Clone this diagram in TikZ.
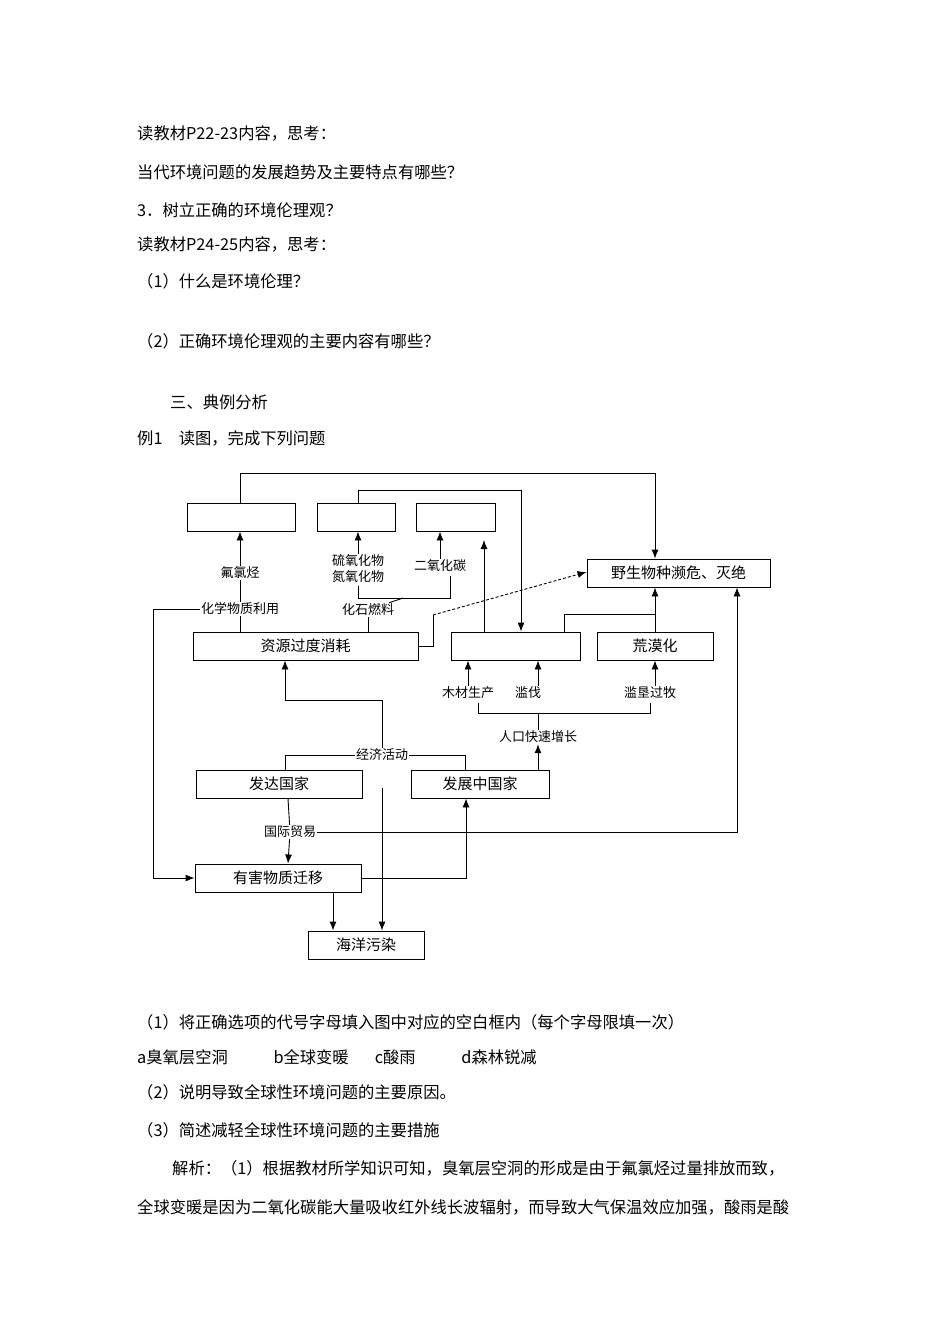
\documentclass[tikz,border=0pt]{standalone}
\usepackage{fontspec}
\setmainfont{Liberation Serif}
\newfontfamily\cjk{Noto Sans CJK SC}
\usetikzlibrary{arrows.meta}
\begin{document}
\begin{tikzpicture}[x=1pt,y=-1pt,
  ln/.style={line width=0.9pt},
  ar/.style={ln,-{Latex[length=9pt,width=7pt]}},
  bx/.style={draw,line width=0.9pt,minimum height=28pt,inner sep=0pt,font=\cjk\fontsize{15}{17}\selectfont},
  lb/.style={fill=white,inner sep=1pt,font=\cjk\fontsize{13}{15}\selectfont},
  tx/.style={anchor=west,inner sep=0pt,font=\cjk\fontsize{16.3}{19}\selectfont}]
\useasboundingbox (0,0) rectangle (950,1344);
\fill[white] (0,0) rectangle (950,1344);
% page text
\node[tx] (t1) at (137,133) {读教材P22-23内容，思考：};
\node[tx] (t2) at (137,172) {当代环境问题的发展趋势及主要特点有哪些？};
\node[tx] (t3) at (137,210) {3．树立正确的环境伦理观？};
\node[tx] (t4) at (137,244) {读教材P24-25内容，思考：};
\node[tx] (t5) at (137,281) {（1）什么是环境伦理？};
\node[tx] (t6) at (137,341) {（2）正确环境伦理观的主要内容有哪些？};
\node[tx] (t7) at (170,402) {三、典例分析};
\node[tx] (t8) at (137,438) {例1\quad 读图，完成下列问题};
\node[tx] (t9) at (137,1022) {（1）将正确选项的代号字母填入图中对应的空白框内（每个字母限填一次）};
\node[tx] (t10) at (137,1057) {a臭氧层空洞\hspace{2.8em}b全球变暖\hspace{1.6em}c酸雨\hspace{2.8em}d森林锐减};
\node[tx] (t11) at (137,1092) {（2）说明导致全球性环境问题的主要原因。};
\node[tx] (t12) at (137,1130) {（3）简述减轻全球性环境问题的主要措施};
\node[tx] (t13) at (172,1168) {解析：（1）根据教材所学知识可知，臭氧层空洞的形成是由于氟氯烃过量排放而致，};
\node[tx] (t14) at (137,1207) {全球变暖是因为二氧化碳能大量吸收红外线长波辐射，而导致大气保温效应加强，酸雨是酸};
% boxes
\node[bx,minimum width=108pt] (b1) at (241,517) {};
\node[bx,minimum width=78pt] (b2) at (356,517) {};
\node[bx,minimum width=79pt] (b3) at (455.5,517) {};
\node[bx,minimum width=183pt] (wild) at (678.5,573) {野生物种濒危、灭绝};
\node[bx,minimum width=225pt] (res) at (305.5,646) {资源过度消耗};
\node[bx,minimum width=129pt] (mid) at (515.5,646) {};
\node[bx,minimum width=116pt] (des) at (655,646) {荒漠化};
\node[bx,minimum width=166pt] (dev1) at (279,784) {发达国家};
\node[bx,minimum width=138pt] (dev2) at (480,784) {发展中国家};
\node[bx,minimum width=166pt] (harm) at (278,878) {有害物质迁移};
\node[bx,minimum width=116pt] (sea) at (366,945) {海洋污染};
% labels
\node[lb] (cfc) at (240,573) {氟氯烃};
\node[lb,align=center,font=\cjk\fontsize{13}{16}\selectfont] (sox) at (358,569) {硫氧化物\\氮氧化物};
\node[lb] (co2) at (440,566) {二氧化碳};
\node[lb] (chem) at (240,609) {化学物质利用};
\node[lb] (fuel) at (368,610) {化石燃料};
\node[lb] (wood) at (468,693) {木材生产};
\node[lb] (cut) at (528,693) {滥伐};
\node[lb] (over) at (650,693) {滥垦过牧};
\node[lb] (pop) at (538,737) {人口快速增长};
\node[lb] (eco) at (382,755) {经济活动};
\node[lb] (trade) at (290,832) {国际贸易};
% connectors
\coordinate (ldn) at (153,609);
\draw[ln] (b1.north -| 240,0) |- (655,473) coordinate (c1);
\draw[ar] (c1) -- (wild.north -| c1);
\draw[ln] (b2.north -| 358,0) |- (521,490) coordinate (c2);
\draw[ar] (c2) -- (mid.north -| c2);
\draw[ar] (cfc) -- (b1.south -| cfc);
\draw[ar] (sox) -- (b2.south -| sox);
\draw[ar] (co2) -- (b3.south -| co2);
\draw[ln] (chem) -- (cfc);
\draw[ln] (chem) -- (res.north -| chem);
\draw[ln] (358,586) -- (358,598) -| (450,576);
\draw[ln] (403,598) -- (fuel);
\draw[ln] (fuel) -- (res.north -| fuel);
\draw[ar] (mid.north -| 484,0) -- (484,540);
\draw[ln] (res.east) -- (433,646) -- (433,615);
\draw[ar,densely dashed] (433,615) -- (wild.west |- 0,572);
\draw[ln] (mid.north -| 564,0) |- (655,614);
\draw[ar] (des.north) -- (wild.south -| des.north);
\draw[ar] (wood) -- (mid.south -| wood);
\draw[ar] (cut.north -| 538,0) -- (mid.south -| 538,0);
\draw[ar] (over.north -| 655,0) -- (des.south);
\draw[ln] (478,703) -- (478,713) -| (650,703);
\draw[ln] (538,713) -- (pop);
\draw[ar] (dev2.north -| 538,0) -- (pop);
\draw[ln] (eco) -- (382,700) -| (285,690);
\draw[ar] (285,690) -- (res.south -| 285,0);
\draw[ln] (eco) -| (dev1.north -| 285,0);
\draw[ln] (eco) -| (dev2.north -| 465,0);
\draw[ar] (382,788) -- (sea.north -| 382,0);
\draw[ln] (dev1.south -| 288,0) -- (trade);
\draw[ar] (trade) -- (harm.north -| 288,0);
\draw[ln] (trade) -| (737,600);
\draw[ar] (737,600) -- (wild.south -| 737,0);
\draw[ln] (chem) -- (ldn);
\draw[ar] (ldn) |- (harm.west);
\draw[ln] (harm.east) -| (466,830);
\draw[ar] (466,830) -- (dev2.south -| 466,0);
\draw[ar] (harm.south -| 333,0) -- (sea.north -| 333,0);
\end{tikzpicture}
\end{document}
